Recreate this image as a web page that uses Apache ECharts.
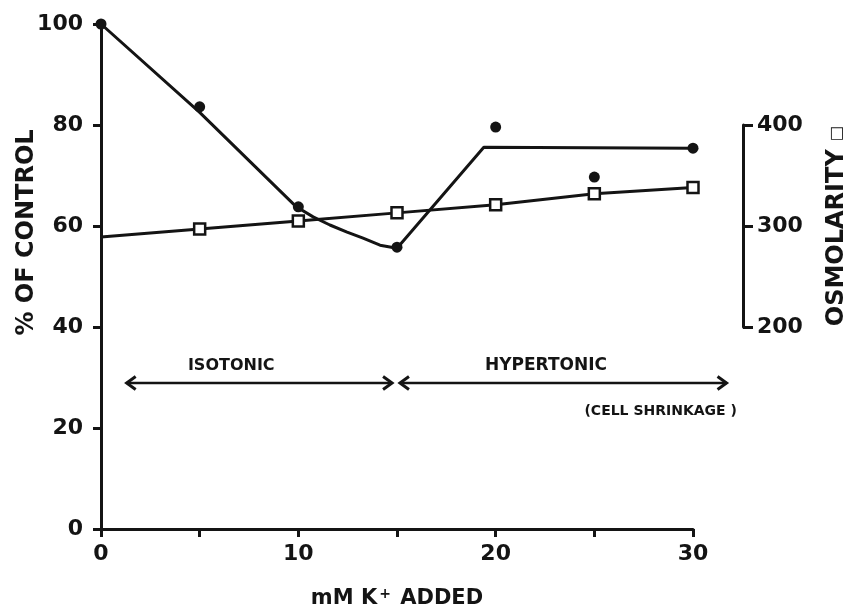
<!DOCTYPE html>
<html>
<head>
<meta charset="utf-8">
<script src="https://cdn.jsdelivr.net/npm/echarts@6/dist/echarts.min.js"></script>
<style>
  html, body { margin: 0; padding: 0; background: #ffffff; }
  #chart { width: 852px; height: 609px; }
</style>
</head>
<body>
<div id="chart"></div>
<script>
// K+ added (mM) at each measurement
const kAdded = [0, 5, 10, 15, 20, 25, 30];
// measured response, % of control
const percentOfControl = [100, 83.6, 63.8, 55.8, 79.6, 69.7, 75.4];
// hand-drawn curve through the % of control points
const fitX = [0, 5, 9.9, 10.75, 11.6, 12.47, 13.28, 14.14, 15, 19.4, 30];
const fitY = [100, 82.5, 63.8, 61.8, 60.2, 58.8, 57.6, 56.2, 55.6, 75.6, 75.4];
// osmolarity of each medium (first value has no marker)
const osmolarity = [289, 297, 305, 313, 321, 332, 338];
// axis ranges / ticks
const xTicks = [0, 10, 20, 30];
const percentTicks = [0, 20, 40, 60, 80, 100];
const osmTicks = [200, 300, 400];
// tonicity ranges shown as double-headed arrows
const regionNames = ['ISOTONIC', 'HYPERTONIC'];
const regionFrom = [1.3, 15.15];
const regionTo = [14.75, 31.7];
const regionCenter = [6.6, 22.55];
const arrowLevel = 28.9;
const regionLabelLevel = 32.3;
const noteText = '(CELL SHRINKAGE )';
const noteX = 24.5;
const noteLevel = 23.2;

const INK = '#141414';
const FONT = "'DejaVu Sans'";

const chart = echarts.init(document.getElementById('chart'), null, { renderer: 'canvas' });

const axisLabelStyle = { color: INK, fontFamily: FONT, fontWeight: 'bold', fontSize: 22 };

const option = {
  backgroundColor: '#ffffff',
  animation: false,
  grid: [
    { left: 101, right: 159, top: 24, bottom: 80, containLabel: false, outerBoundsMode: 'none' },
    { left: 101, right: 159, top: 125, height: 202, containLabel: false, outerBoundsMode: 'none' }
  ],
  xAxis: [
    {
      gridIndex: 0, type: 'value',
      min: xTicks[0], max: xTicks[xTicks.length - 1], interval: 5,
      name: 'mM K{sup|+} ADDED', nameLocation: 'middle', nameGap: 58,
      nameMoveOverlap: false,
      nameTextStyle: {
        color: INK, fontFamily: FONT, fontWeight: 'bold', fontSize: 21,
        rich: { sup: { color: INK, fontFamily: FONT, fontWeight: 'bold', fontSize: 14, verticalAlign: 'top', padding: [0, 2, 10, 2] } }
      },
      axisLine: { show: true, onZero: false, lineStyle: { color: INK, width: 3 } },
      axisTick: { show: true, length: 8, lineStyle: { color: INK, width: 3 } },
      axisLabel: Object.assign({ margin: 14, formatter: v => (xTicks.indexOf(v) >= 0 ? String(v) : '') }, axisLabelStyle),
      splitLine: { show: false }
    },
    {
      gridIndex: 1, type: 'value',
      min: xTicks[0], max: xTicks[xTicks.length - 1], show: false
    }
  ],
  yAxis: [
    {
      gridIndex: 0, type: 'value', position: 'left',
      min: percentTicks[0], max: percentTicks[percentTicks.length - 1], interval: 20,
      name: '% OF CONTROL', nameLocation: 'middle', nameRotate: 90, nameGap: 62,
      nameMoveOverlap: false,
      nameTextStyle: { color: INK, fontFamily: FONT, fontWeight: 'bold', fontSize: 24, padding: [0, 0, 0, 88] },
      axisLine: { show: true, onZero: false, lineStyle: { color: INK, width: 3 } },
      axisTick: { show: true, length: 8, lineStyle: { color: INK, width: 3 } },
      axisLabel: Object.assign({ margin: 18 }, axisLabelStyle),
      splitLine: { show: false }
    },
    {
      gridIndex: 1, type: 'value', position: 'right', offset: 50,
      min: osmTicks[0], max: osmTicks[osmTicks.length - 1], interval: 100,
      name: 'OSMOLARITY {sq|□}', nameLocation: 'middle', nameRotate: 90, nameGap: 82,
      nameMoveOverlap: false,
      nameTextStyle: {
        color: INK, fontFamily: FONT, fontWeight: 'bold', fontSize: 24,
        rich: { sq: { color: INK, fontFamily: FONT, fontWeight: 'bold', fontSize: 16 } }
      },
      axisLine: { show: true, onZero: false, lineStyle: { color: INK, width: 3 } },
      axisTick: { show: true, inside: false, length: 10, lineStyle: { color: INK, width: 3 } },
      axisLabel: Object.assign({ margin: 14 }, axisLabelStyle),
      splitLine: { show: false }
    }
  ],
  series: [
    {
      name: 'curve', type: 'line', xAxisIndex: 0, yAxisIndex: 0,
      data: fitX.map((x, i) => [x, fitY[i]]),
      symbol: 'none', smooth: false,
      lineStyle: { color: INK, width: 3 },
      z: 3
    },
    {
      name: 'percent', type: 'scatter', xAxisIndex: 0, yAxisIndex: 0,
      data: kAdded.map((x, i) => [x, percentOfControl[i]]),
      symbol: 'circle', symbolSize: 11,
      itemStyle: { color: INK, opacity: 1 },
      z: 4
    },
    {
      name: 'osmolarity', type: 'line', xAxisIndex: 1, yAxisIndex: 1,
      data: kAdded.map((x, i) => (i === 0
        ? { value: [x, osmolarity[i]], symbol: 'none' }
        : [x, osmolarity[i]])),
      symbol: 'rect', symbolSize: 11, showAllSymbol: true,
      lineStyle: { color: INK, width: 3 },
      itemStyle: { color: '#ffffff', borderColor: INK, borderWidth: 2.5, opacity: 1 },
      z: 5
    }
  ]
};

chart.setOption(option);

// Arrows and region labels, positioned in data units of the main grid
function px(x, y) { return chart.convertToPixel({ gridIndex: 0 }, [x, y]); }
const elements = [];
const HEAD_LEN = 9, HEAD_HALF = 6.5;
function chevron(tip, dir) {
  return {
    type: 'polyline', z: 10,
    shape: { points: [[tip[0] + dir * HEAD_LEN, tip[1] - HEAD_HALF], tip, [tip[0] + dir * HEAD_LEN, tip[1] + HEAD_HALF]] },
    style: { stroke: INK, lineWidth: 3, fill: null, lineJoin: 'miter' }
  };
}
function textEl(str, p, size, align) {
  return {
    type: 'text', z: 10, x: p[0], y: p[1],
    style: {
      text: str, fill: INK,
      font: 'bold ' + size + 'px ' + FONT,
      align: align, textAlign: align,
      verticalAlign: 'middle', textVerticalAlign: 'middle'
    }
  };
}
regionNames.forEach((nm, i) => {
  const a = px(regionFrom[i], arrowLevel);
  const b = px(regionTo[i], arrowLevel);
  elements.push({
    type: 'line', z: 10,
    shape: { x1: a[0], y1: a[1], x2: b[0], y2: b[1] },
    style: { stroke: INK, lineWidth: 2.5 }
  });
  elements.push(chevron(a, 1));
  elements.push(chevron(b, -1));
  elements.push(textEl(nm, px(regionCenter[i], regionLabelLevel), i === 0 ? 16 : 17, 'center'));
});
elements.push(textEl(noteText, px(noteX, noteLevel), 14, 'left'));
chart.setOption({ graphic: elements });
</script>
</body>
</html>
